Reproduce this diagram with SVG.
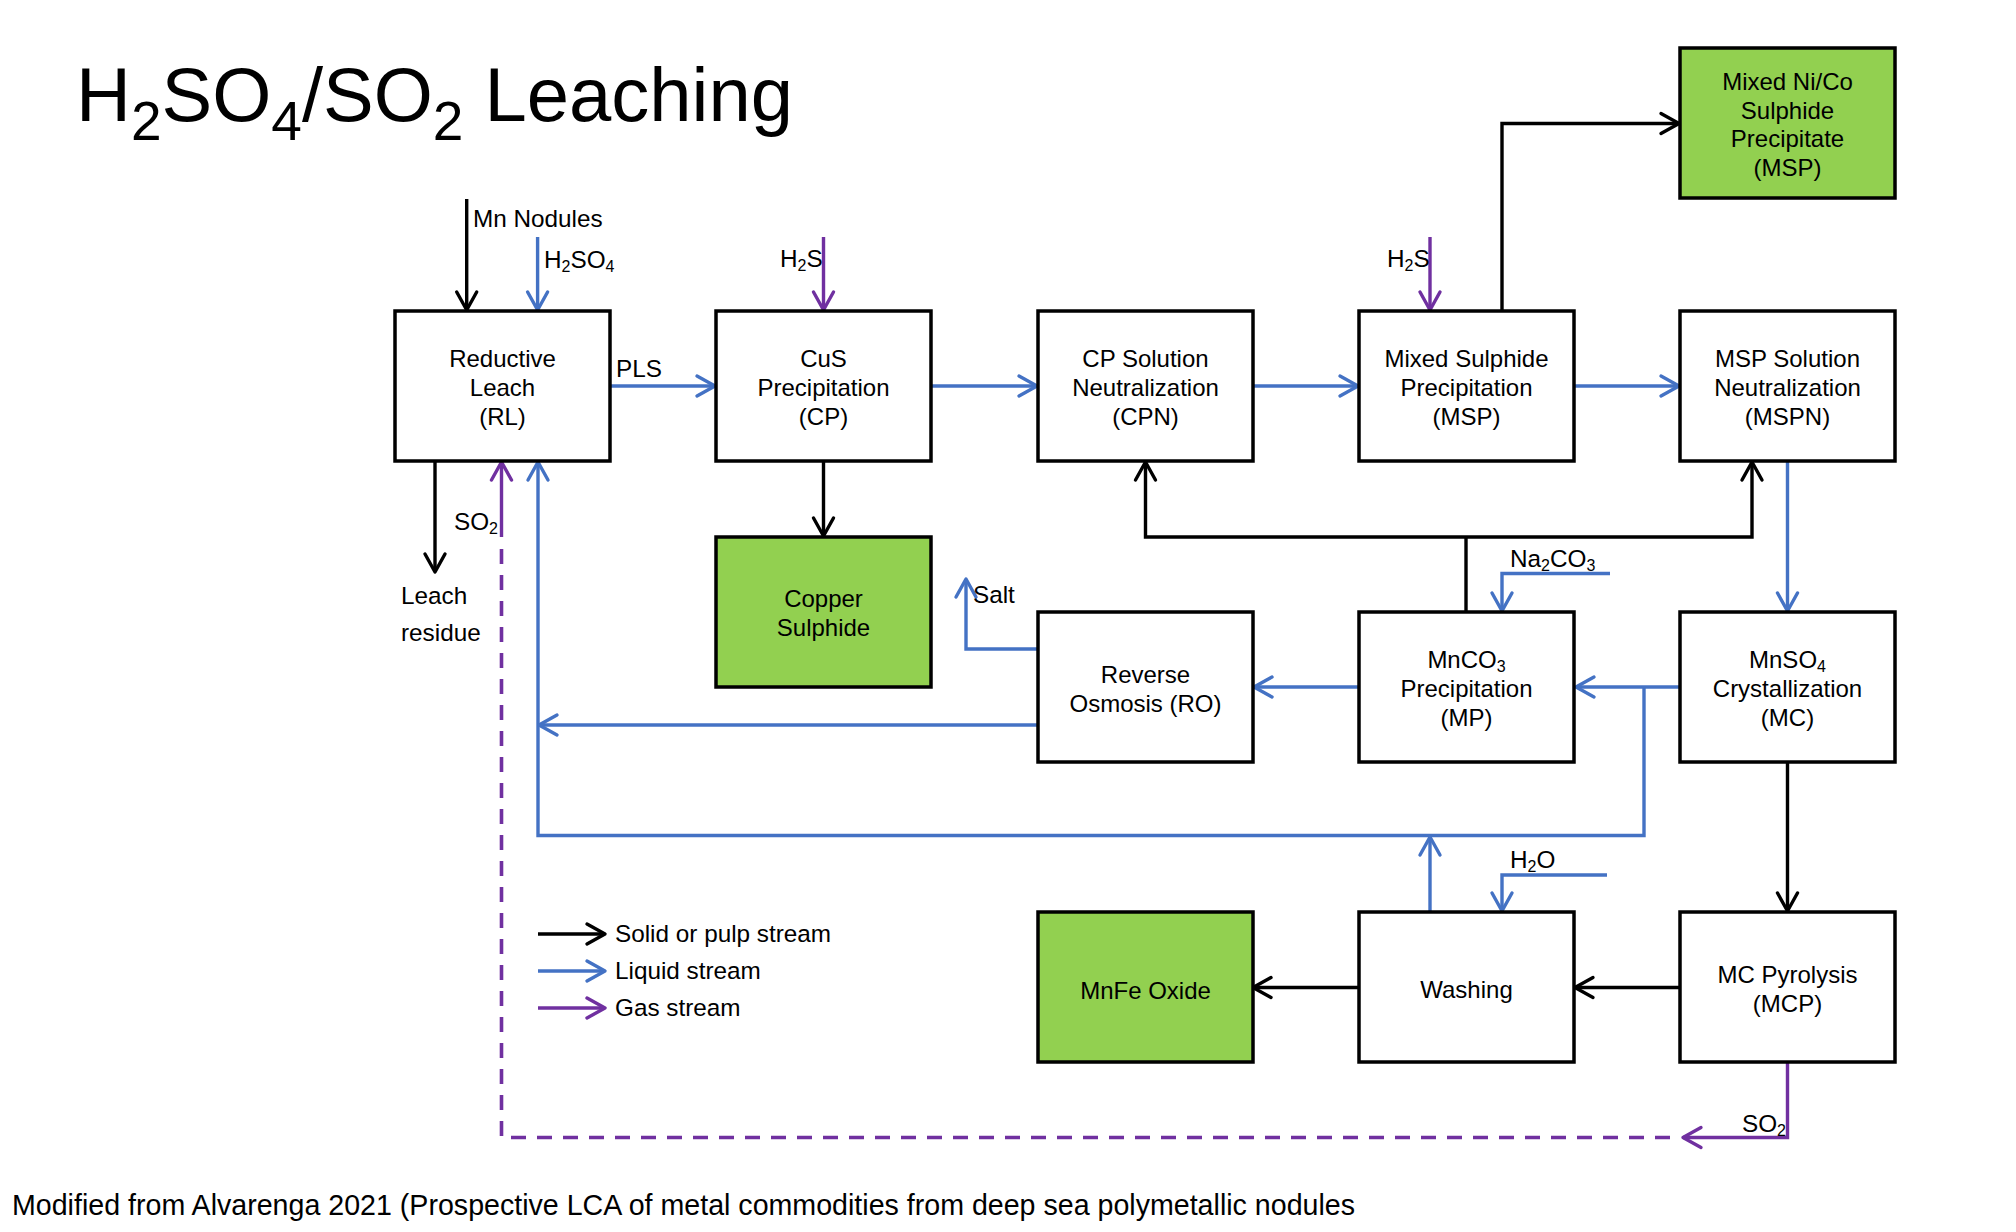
<svg xmlns="http://www.w3.org/2000/svg" width="2016" height="1232" viewBox="0 0 2016 1232">
<style>
text{font-family:"Liberation Sans",Arial,sans-serif;fill:#000}
.t{font-size:24.3px}
.n{font-size:24px;text-anchor:middle}
.box{fill:#fff;stroke:#000;stroke-width:3.5}
.grn{fill:#92D050;stroke:#000;stroke-width:3.5}
.k{fill:none;stroke:#000;stroke-width:3.4}
.b{fill:none;stroke:#4472C4;stroke-width:3.4}
.p{fill:none;stroke:#7030A0;stroke-width:3.4}
.pd{fill:none;stroke:#7030A0;stroke-width:3.6;stroke-dasharray:15 11}
</style>
<defs>
<marker id="ak" viewBox="-22 -13 26 26" markerWidth="26" markerHeight="26" refX="0" refY="0" orient="auto" markerUnits="userSpaceOnUse"><path d="M-18,-10 L0,0 L-18,10" fill="none" stroke="#000" stroke-width="3.4" stroke-linejoin="round" stroke-linecap="round"/></marker>
<marker id="ab" viewBox="-22 -13 26 26" markerWidth="26" markerHeight="26" refX="0" refY="0" orient="auto" markerUnits="userSpaceOnUse"><path d="M-18,-10 L0,0 L-18,10" fill="none" stroke="#4472C4" stroke-width="3.4" stroke-linejoin="round" stroke-linecap="round"/></marker>
<marker id="ap" viewBox="-22 -13 26 26" markerWidth="26" markerHeight="26" refX="0" refY="0" orient="auto" markerUnits="userSpaceOnUse"><path d="M-18,-10 L0,0 L-18,10" fill="none" stroke="#7030A0" stroke-width="3.4" stroke-linejoin="round" stroke-linecap="round"/></marker>
</defs>
<rect x="0" y="0" width="2016" height="1232" fill="#fff"/>

<text x="76" y="121" font-size="76">H<tspan font-size="55" dy="19">2</tspan><tspan dy="-19">SO</tspan><tspan font-size="55" dy="19">4</tspan><tspan dy="-19">/SO</tspan><tspan font-size="55" dy="19">2</tspan><tspan dy="-19"> Leaching</tspan></text>

<g id="connectors">
<path class="k" d="M466.7,199 V310" marker-end="url(#ak)"/>
<path class="b" d="M537.6,237 V310" marker-end="url(#ab)"/>
<path class="b" d="M609,386 H715" marker-end="url(#ab)"/>
<path class="b" d="M931,386 H1037" marker-end="url(#ab)"/>
<path class="b" d="M1253,386 H1358" marker-end="url(#ab)"/>
<path class="b" d="M1574,386 H1679" marker-end="url(#ab)"/>
<path class="p" d="M823.5,237 V310" marker-end="url(#ap)"/>
<path class="p" d="M1430,237 V310" marker-end="url(#ap)"/>
<path class="k" d="M1502,311 V123.5 H1679" marker-end="url(#ak)"/>
<path class="k" d="M823.5,461 V536" marker-end="url(#ak)"/>
<path class="k" d="M435,461 V572" marker-end="url(#ak)"/>
<path class="p" d="M501.5,537 V462" marker-end="url(#ap)"/>
<path class="pd" d="M1670,1137.5 H501.5 V545"/>
<path class="p" d="M1787.5,1062 V1137.5 H1683" marker-end="url(#ap)"/>
<path class="b" d="M1644,687 V835.5 H538 V462" marker-end="url(#ab)"/>
<path class="b" d="M1038,725 H539" marker-end="url(#ab)"/>
<path class="b" d="M1038,649 H966 V579" marker-end="url(#ab)"/>
<path class="b" d="M1680,687 H1576" marker-end="url(#ab)"/>
<path class="b" d="M1359,687 H1254" marker-end="url(#ab)"/>
<path class="k" d="M1466,612 V537"/>
<path class="k" d="M1466,537 H1145.5 V462" marker-end="url(#ak)"/>
<path class="k" d="M1466,537 H1752 V462" marker-end="url(#ak)"/>
<path class="b" d="M1787.5,461 V611" marker-end="url(#ab)"/>
<path class="b" d="M1610,573.5 H1502 V611" marker-end="url(#ab)"/>
<path class="k" d="M1787.5,762 V911" marker-end="url(#ak)"/>
<path class="k" d="M1680,987.5 H1575" marker-end="url(#ak)"/>
<path class="k" d="M1359,987.5 H1253" marker-end="url(#ak)"/>
<path class="b" d="M1430,912 V837" marker-end="url(#ab)"/>
<path class="b" d="M1607,875 H1502 V911" marker-end="url(#ab)"/>
<path class="k" d="M538,934 H605" marker-end="url(#ak)"/>
<path class="b" d="M538,971 H605" marker-end="url(#ab)"/>
<path class="p" d="M538,1008 H605" marker-end="url(#ap)"/>
</g>

<g id="labels">
<text class="t" x="473" y="227">Mn Nodules</text>
<text class="t" x="544" y="268">H<tspan font-size="16" dy="4">2</tspan><tspan dy="-4">SO</tspan><tspan font-size="16" dy="4">4</tspan></text>
<text class="t" x="616" y="377">PLS</text>
<text class="t" x="780" y="267">H<tspan font-size="16" dy="4">2</tspan><tspan dy="-4">S</tspan></text>
<text class="t" x="1387" y="267">H<tspan font-size="16" dy="4">2</tspan><tspan dy="-4">S</tspan></text>
<text class="t" x="454" y="530">SO<tspan font-size="16" dy="4">2</tspan></text>
<text class="t" x="401" y="604">Leach</text>
<text class="t" x="401" y="641">residue</text>
<text class="t" x="973" y="603">Salt</text>
<text class="t" x="1510" y="567">Na<tspan font-size="16" dy="4">2</tspan><tspan dy="-4">CO</tspan><tspan font-size="16" dy="4">3</tspan></text>
<text class="t" x="1510" y="868">H<tspan font-size="16" dy="4">2</tspan><tspan dy="-4">O</tspan></text>
<text class="t" x="1742" y="1132">SO<tspan font-size="16" dy="4">2</tspan></text>
<text class="t" x="615" y="942">Solid or pulp stream</text>
<text class="t" x="615" y="979">Liquid stream</text>
<text class="t" x="615" y="1016">Gas stream</text>
</g>

<g id="node-RL"><rect class="box" x="395" y="311" width="215" height="150"/>
<text class="n" x="502.5" y="367">Reductive</text><text class="n" x="502.5" y="396">Leach</text><text class="n" x="502.5" y="425">(RL)</text></g>
<g id="node-CP"><rect class="box" x="716" y="311" width="215" height="150"/>
<text class="n" x="823.5" y="367">CuS</text><text class="n" x="823.5" y="396">Precipitation</text><text class="n" x="823.5" y="425">(CP)</text></g>
<g id="node-CPN"><rect class="box" x="1038" y="311" width="215" height="150"/>
<text class="n" x="1145.5" y="367">CP Solution</text><text class="n" x="1145.5" y="396">Neutralization</text><text class="n" x="1145.5" y="425">(CPN)</text></g>
<g id="node-MSP"><rect class="box" x="1359" y="311" width="215" height="150"/>
<text class="n" x="1466.5" y="367">Mixed Sulphide</text><text class="n" x="1466.5" y="396">Precipitation</text><text class="n" x="1466.5" y="425">(MSP)</text></g>
<g id="node-MSPN"><rect class="box" x="1680" y="311" width="215" height="150"/>
<text class="n" x="1787.5" y="367">MSP Solution</text><text class="n" x="1787.5" y="396">Neutralization</text><text class="n" x="1787.5" y="425">(MSPN)</text></g>
<g id="node-NiCo"><rect class="grn" x="1680" y="48" width="215" height="150"/>
<text class="n" x="1787.5" y="90">Mixed Ni/Co</text><text class="n" x="1787.5" y="119">Sulphide</text><text class="n" x="1787.5" y="147">Precipitate</text><text class="n" x="1787.5" y="176">(MSP)</text></g>
<g id="node-CuSulphide"><rect class="grn" x="716" y="537" width="215" height="150"/>
<text class="n" x="823.5" y="607">Copper</text><text class="n" x="823.5" y="636">Sulphide</text></g>
<g id="node-RO"><rect class="box" x="1038" y="612" width="215" height="150"/>
<text class="n" x="1145.5" y="683">Reverse</text><text class="n" x="1145.5" y="712">Osmosis (RO)</text></g>
<g id="node-MP"><rect class="box" x="1359" y="612" width="215" height="150"/>
<text class="n" x="1466.5" y="668">MnCO<tspan font-size="16" dy="4">3</tspan></text><text class="n" x="1466.5" y="697">Precipitation</text><text class="n" x="1466.5" y="726">(MP)</text></g>
<g id="node-MC"><rect class="box" x="1680" y="612" width="215" height="150"/>
<text class="n" x="1787.5" y="668">MnSO<tspan font-size="16" dy="4">4</tspan></text><text class="n" x="1787.5" y="697">Crystallization</text><text class="n" x="1787.5" y="726">(MC)</text></g>
<g id="node-MnFe"><rect class="grn" x="1038" y="912" width="215" height="150"/>
<text class="n" x="1145.5" y="999">MnFe Oxide</text></g>
<g id="node-Washing"><rect class="box" x="1359" y="912" width="215" height="150"/>
<text class="n" x="1466.5" y="998">Washing</text></g>
<g id="node-MCP"><rect class="box" x="1680" y="912" width="215" height="150"/>
<text class="n" x="1787.5" y="983">MC Pyrolysis</text><text class="n" x="1787.5" y="1012">(MCP)</text></g>

<text x="12" y="1215" font-size="28.6">Modified from Alvarenga 2021 (Prospective LCA of metal commodities from deep sea polymetallic nodules</text>
</svg>
